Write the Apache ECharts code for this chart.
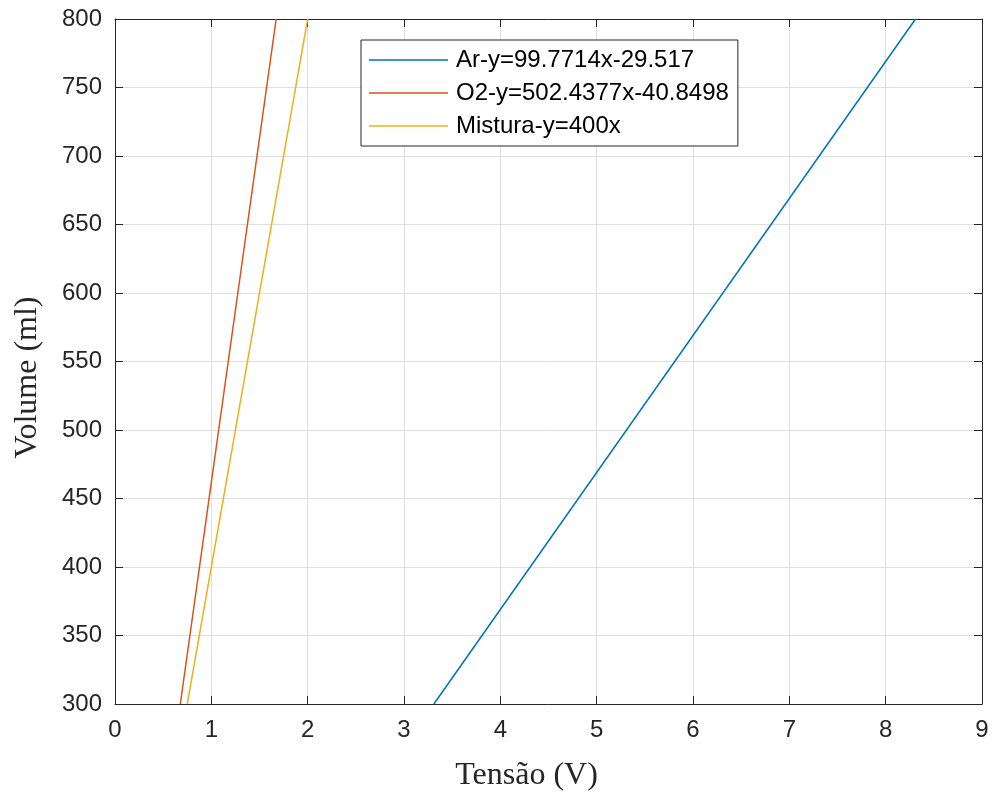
<!DOCTYPE html>
<html><head><meta charset="utf-8">
<script src="https://cdn.jsdelivr.net/npm/echarts@6/dist/echarts.min.js"></script>
<style>html,body{margin:0;padding:0;background:#fff}#c{width:992px;height:792px}</style>
</head><body><div id="c"></div>
<script>
const seriesNames = ['Ar-y=99.7714x-29.517', 'O2-y=502.4377x-40.8498', 'Mistura-y=400x'];
const arData = [[3.31, 300], [8.31, 800]];
const o2Data = [[0.678, 300], [1.673, 800]];
const misturaData = [[0.75, 300], [2.0, 800]];
const colors = ['#0072BD', '#D95319', '#EDB120'];
const xTicks = [0, 1, 2, 3, 4, 5, 6, 7, 8, 9];
const yTicks = [300, 350, 400, 450, 500, 550, 600, 650, 700, 750, 800];

const chart = echarts.init(document.getElementById('c'));
const axisLine = () => ({show: true, onZero: false, lineStyle: {color: '#262626', width: 1}});
const tick = () => ({show: true, inside: true, length: 8, lineStyle: {color: '#262626'}});
const lab = {fontFamily: 'Liberation Sans, Arial', fontSize: 24, color: '#262626'};
chart.setOption({
  animation: false,
  grid: {left: 115, right: 10, top: 19, bottom: 88, containLabel: false, outerBoundsMode: 'none'},
  legend: {
    orient: 'vertical', left: 361, top: 40,
    data: seriesNames, icon: 'rect',
    itemWidth: 79, itemHeight: 1.5, itemGap: 9,
    padding: [8, 9, 8, 8],
    borderColor: '#262626', borderWidth: 1, backgroundColor: '#fff',
    textStyle: {fontFamily: 'Liberation Sans, Arial', fontSize: 24, color: '#000', padding: [0, 0, 0, 3]}
  },
  xAxis: [{
    type: 'value', min: 0, max: 9, interval: 1,
    name: 'Tensão (V)', nameLocation: 'middle', nameGap: 56,
    nameTextStyle: {fontFamily: 'Liberation Serif, Times New Roman', fontSize: 32, color: '#262626', padding: [0, 44, 0, 0]},
    axisLine: axisLine(), axisTick: tick(),
    axisLabel: Object.assign({margin: 14, formatter: v => xTicks.includes(v) ? String(v) : ''}, lab),
    splitLine: {show: true, lineStyle: {color: '#dfdfdf', width: 1}}
  }, {
    type: 'value', position: 'top', min: 0, max: 9, interval: 1,
    axisLine: axisLine(), axisTick: tick(), axisLabel: {show: false}, splitLine: {show: false}
  }],
  yAxis: [{
    type: 'value', min: 300, max: 800, interval: 50, position: 'left',
    name: 'Volume (ml)', nameLocation: 'middle', nameGap: 71, nameRotate: 90,
    nameTextStyle: {fontFamily: 'Liberation Serif, Times New Roman', fontSize: 32, color: '#262626', padding: [0, 32, 0, 0]},
    axisLine: axisLine(), axisTick: tick(),
    axisLabel: Object.assign({margin: 13, formatter: v => yTicks.includes(v) ? String(v) : ''}, lab),
    splitLine: {show: true, lineStyle: {color: '#dfdfdf', width: 1}}
  }, {
    type: 'value', position: 'right', min: 300, max: 800, interval: 50,
    axisLine: axisLine(), axisTick: tick(), axisLabel: {show: false}, splitLine: {show: false}
  }],
  series: [
    {name: seriesNames[0], type: 'line', data: arData, symbol: 'none', color: colors[0], lineStyle: {width: 1.5}},
    {name: seriesNames[1], type: 'line', data: o2Data, symbol: 'none', color: colors[1], lineStyle: {width: 1.5}},
    {name: seriesNames[2], type: 'line', data: misturaData, symbol: 'none', color: colors[2], lineStyle: {width: 1.5}}
  ]
});
</script></body></html>
